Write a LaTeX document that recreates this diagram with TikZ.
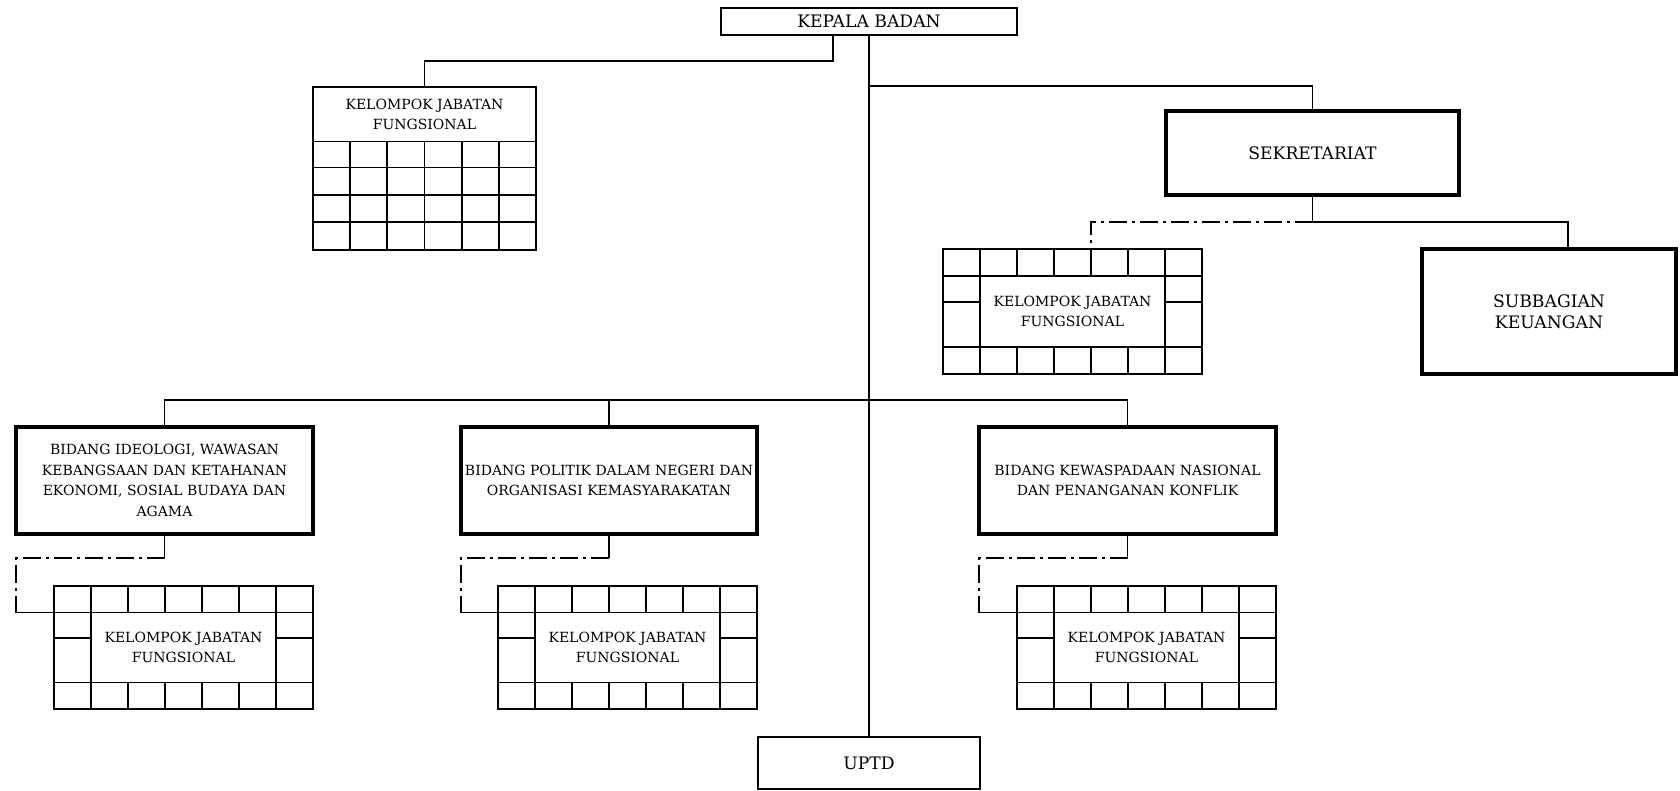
\documentclass[tikz,border=0pt]{standalone}
\usepackage{fontspec}
\setmainfont{DejaVu Serif}
\usetikzlibrary{calc}

\tikzset{
  conn/.style={line width=0.85pt},
  dashdot/.style={line width=0.85pt, dash pattern=on 9pt off 2.5pt on 1.5pt off 2.5pt},
  box/.style={draw, line width=1.6pt, inner sep=0pt, outer sep=0pt, align=center},
  midbox/.style={draw, line width=1.3pt, inner sep=0pt, outer sep=0pt, align=center},
  gridbox/.style={draw, line width=0.9pt, inner sep=0pt, outer sep=0pt, align=center},
  gridline/.style={line width=0.9pt},
  smalltext/.style={font=\fontsize{7.0}{10.3}\selectfont},
  bidtext/.style={font=\fontsize{7.0}{10.3}\selectfont},
  bigtext/.style={font=\fontsize{8.6}{10.5}\selectfont},
}

\newcommand\ringlines[3]{%
  \begin{scope}[shift={(#1.north west)}, gridline]
    \pgfmathsetmacro\cw{#2/7}
    \pgfmathsetmacro\ra{0.215*#3}
    \pgfmathsetmacro\rb{0.785*#3}
    \pgfmathsetmacro\rs{0.425*#3}
    \draw (0,\ra) -- (#2,\ra);
    \draw (0,\rb) -- (#2,\rb);
    \draw (\cw,0) -- (\cw,#3);
    \draw (6*\cw,0) -- (6*\cw,#3);
    \foreach \i in {2,...,5} {
      \draw (\i*\cw,0) -- (\i*\cw,\ra);
      \draw (\i*\cw,\rb) -- (\i*\cw,#3);
    }
    \draw (0,\rs) -- (\cw,\rs);
    \draw (6*\cw,\rs) -- (#2,\rs);
  \end{scope}}

\newcommand\headgrid[3]{%
  \begin{scope}[shift={(#1.north west)}, gridline]
    \pgfmathsetmacro\cw{#2/6}
    \pgfmathsetmacro\ha{0.334*#3}
    \foreach \f in {0.334,0.494,0.662,0.826} {
      \draw (0,\f*#3) -- (#2,\f*#3);
    }
    \foreach \i in {1,...,5} {
      \draw (\i*\cw,\ha) -- (\i*\cw,#3);
    }
  \end{scope}}

\begin{document}
\begin{tikzpicture}[x=0.5pt,y=-0.5pt]
\useasboundingbox (0,0) rectangle (1680,791);

% main boxes
\node[midbox, minimum width=148pt, minimum height=13.5pt, bigtext] (kepala) at (869,21.5) {KEPALA BADAN};
\node[box, minimum width=146.5pt, minimum height=42pt, bigtext] (sek) at (1312.5,153) {SEKRETARIAT};
\node[box, minimum width=127pt, minimum height=62.5pt, bigtext] (sub) at (1549,311.5) {SUBBAGIAN\\KEUANGAN};
\node[box, minimum width=148.5pt, minimum height=53.5pt, bidtext] (b1) at (164.5,480.5) {BIDANG IDEOLOGI, WAWASAN\\KEBANGSAAN DAN KETAHANAN\\EKONOMI, SOSIAL BUDAYA DAN\\AGAMA};
\node[box, minimum width=148pt, minimum height=53.5pt, bidtext] (b2) at (609,480.5) {BIDANG POLITIK DALAM NEGERI DAN\\ORGANISASI KEMASYARAKATAN};
\node[box, minimum width=148.5pt, minimum height=53.5pt, bidtext] (b3) at (1127.5,480.5) {BIDANG KEWASPADAAN NASIONAL\\DAN PENANGANAN KONFLIK};
\node[midbox, minimum width=111pt, minimum height=26pt, bigtext] (uptd) at (869,763) {UPTD};

% functional groups
\node[gridbox, minimum width=111.5pt, minimum height=81.5pt] (kjf1) at (424.5,168.5) {};
\headgrid{kjf1}{223}{163}
\node[smalltext, align=center, inner sep=0pt] (kjf1t) at (424.5,114.5) {KELOMPOK JABATAN\\FUNGSIONAL};

\node[gridbox, minimum width=129.5pt, minimum height=62.5pt, smalltext] (kjf2) at (1072.5,311.5) {KELOMPOK JABATAN\\FUNGSIONAL};
\ringlines{kjf2}{259}{125}
\node[gridbox, minimum width=129.5pt, minimum height=61.5pt, smalltext] (kjf3) at (183.5,647.5) {KELOMPOK JABATAN\\FUNGSIONAL};
\ringlines{kjf3}{259}{123}
\node[gridbox, minimum width=129.5pt, minimum height=61.5pt, smalltext] (kjf4) at (627.5,647.5) {KELOMPOK JABATAN\\FUNGSIONAL};
\ringlines{kjf4}{259}{123}
\node[gridbox, minimum width=129.5pt, minimum height=61.5pt, smalltext] (kjf5) at (1146.5,647.5) {KELOMPOK JABATAN\\FUNGSIONAL};
\ringlines{kjf5}{259}{123}

% junction coordinates
\coordinate (j1) at (869,86);
\coordinate (j2) at (1312.5,222);
\coordinate (j3) at (869,400);

% connectors
\draw[conn] (kepala.south) -- (uptd.north);
\draw[conn] ($(kepala.south)+(-36,0)$) -- ++(0,26) -| (kjf1.north);
\draw[conn] (j1) -| (sek.north);
\draw[conn] (sek.south) -- (j2) -| ($(sub.north)+(19,0)$);
\draw[dashdot] (j2) -| ($(kjf2.north)+(18.5,0)$);
\draw[conn] (b1.north) |- (b3.north |- j3) -- (b3.north);
\draw[conn] (b2.north) -- (b2.north |- j3);

% bidang -> functional groups
\coordinate (c1a) at (164.5,558); \coordinate (c1b) at (16,558); \coordinate (c1c) at (16,612.5);
\coordinate (c2a) at (609,558);   \coordinate (c2b) at (461,558); \coordinate (c2c) at (461,612.5);
\coordinate (c3a) at (1127.5,558);\coordinate (c3b) at (979,558); \coordinate (c3c) at (979,612.5);
\draw[conn] (b1.south) -- (c1a);
\draw[dashdot] (c1a) -- (c1b) -- (c1c);
\draw[conn] (c1c) -- (c1c -| kjf3.west);
\draw[conn] (b2.south) -- (c2a);
\draw[dashdot] (c2a) -- (c2b) -- (c2c);
\draw[conn] (c2c) -- (c2c -| kjf4.west);
\draw[conn] (b3.south) -- (c3a);
\draw[dashdot] (c3a) -- (c3b) -- (c3c);
\draw[conn] (c3c) -- (c3c -| kjf5.west);
\end{tikzpicture}
\end{document}
